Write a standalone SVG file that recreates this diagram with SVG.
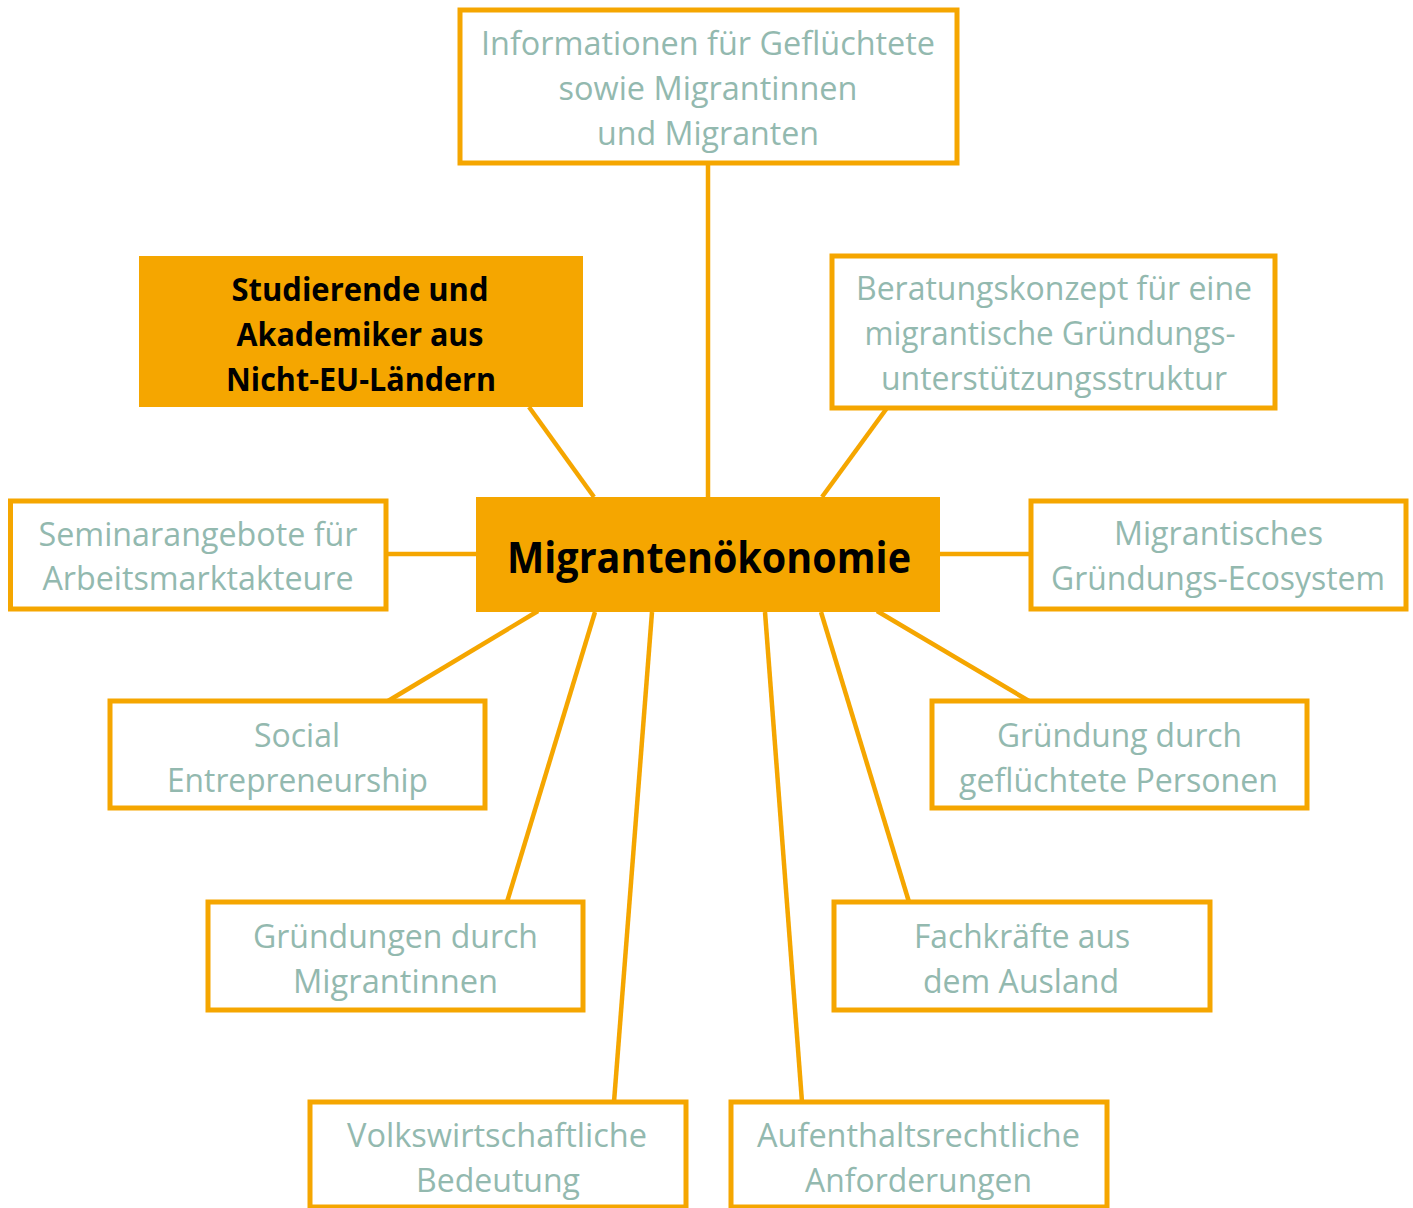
<svg xmlns="http://www.w3.org/2000/svg" width="1413" height="1208" viewBox="0 0 1413 1208">
<style>
.box{fill:#ffffff;stroke:#F5A600;stroke-width:5}
.fill{fill:#F5A600;stroke:none}
.con{stroke:#F5A600;stroke-width:4.5;fill:none}
.t{font-family:"Open Sans","Liberation Sans",sans-serif;font-size:33px;fill:#93B9AF;text-anchor:middle}
.b{font-family:"Open Sans","Liberation Sans",sans-serif;font-size:33px;font-weight:bold;fill:#000000;text-anchor:middle}
.c{font-family:"Open Sans","Liberation Sans",sans-serif;font-size:43px;font-weight:bold;fill:#000000;text-anchor:middle}
</style>
<rect width="1413" height="1208" fill="#ffffff"/>
<g id="connectors">
<line class="con" x1="708" y1="163" x2="708" y2="500"/>
<line class="con" x1="529" y1="407" x2="594" y2="497"/>
<line class="con" x1="887" y1="408" x2="822" y2="497"/>
<line class="con" x1="386" y1="554" x2="478" y2="554"/>
<line class="con" x1="938" y1="554" x2="1031" y2="554"/>
<line class="con" x1="388" y1="701" x2="538" y2="611"/>
<line class="con" x1="1029" y1="701" x2="877" y2="611"/>
<line class="con" x1="507" y1="902" x2="595" y2="612"/>
<line class="con" x1="909" y1="902" x2="821" y2="612"/>
<line class="con" x1="614" y1="1102" x2="652" y2="612"/>
<line class="con" x1="802" y1="1102" x2="765" y2="612"/>
</g>
<g id="n-info">
<rect class="box" x="460" y="10" width="497" height="153"/>
<text class="t" x="708" y="55" textLength="454" lengthAdjust="spacingAndGlyphs">Informationen für Geflüchtete</text>
<text class="t" x="708" y="100" textLength="299" lengthAdjust="spacingAndGlyphs">sowie Migrantinnen</text>
<text class="t" x="708" y="145" textLength="222" lengthAdjust="spacingAndGlyphs">und Migranten</text>
</g>
<g id="n-studierende">
<rect class="fill" x="139" y="256" width="444" height="151"/>
<text class="b" x="360" y="301" textLength="257" lengthAdjust="spacingAndGlyphs">Studierende und</text>
<text class="b" x="360" y="346" textLength="247" lengthAdjust="spacingAndGlyphs">Akademiker aus</text>
<text class="b" x="361" y="391" textLength="270" lengthAdjust="spacingAndGlyphs">Nicht-EU-Ländern</text>
</g>
<g id="n-beratung">
<rect class="box" x="832" y="256" width="443" height="152"/>
<text class="t" x="1054" y="300" textLength="396" lengthAdjust="spacingAndGlyphs">Beratungskonzept für eine</text>
<text class="t" x="1050" y="345" textLength="371" lengthAdjust="spacingAndGlyphs">migrantische Gründungs-</text>
<text class="t" x="1054" y="390" textLength="346" lengthAdjust="spacingAndGlyphs">unterstützungsstruktur</text>
</g>
<g id="n-center">
<rect class="fill" x="476" y="497" width="464" height="115"/>
<text class="c" x="709" y="573" textLength="404" lengthAdjust="spacingAndGlyphs">Migrantenökonomie</text>
</g>
<g id="n-seminar">
<rect class="box" x="10.5" y="501" width="375.5" height="108"/>
<text class="t" x="198" y="546" textLength="319" lengthAdjust="spacingAndGlyphs">Seminarangebote für</text>
<text class="t" x="198" y="590" textLength="311" lengthAdjust="spacingAndGlyphs">Arbeitsmarktakteure</text>
</g>
<g id="n-ecosystem">
<rect class="box" x="1031" y="501" width="375" height="108"/>
<text class="t" x="1218.5" y="545" textLength="209" lengthAdjust="spacingAndGlyphs">Migrantisches</text>
<text class="t" x="1218" y="590" textLength="334" lengthAdjust="spacingAndGlyphs">Gründungs-Ecosystem</text>
</g>
<g id="n-social">
<rect class="box" x="110" y="701" width="375" height="107"/>
<text class="t" x="297" y="747" textLength="86" lengthAdjust="spacingAndGlyphs">Social</text>
<text class="t" x="297.5" y="792" textLength="261" lengthAdjust="spacingAndGlyphs">Entrepreneurship</text>
</g>
<g id="n-gefluechtete">
<rect class="box" x="932" y="701" width="375" height="107"/>
<text class="t" x="1119.5" y="747" textLength="245" lengthAdjust="spacingAndGlyphs">Gründung durch</text>
<text class="t" x="1118.5" y="792" textLength="319" lengthAdjust="spacingAndGlyphs">geflüchtete Personen</text>
</g>
<g id="n-migrantinnen">
<rect class="box" x="208" y="902" width="375" height="108"/>
<text class="t" x="395.5" y="948" textLength="285" lengthAdjust="spacingAndGlyphs">Gründungen durch</text>
<text class="t" x="395.5" y="993" textLength="205" lengthAdjust="spacingAndGlyphs">Migrantinnen</text>
</g>
<g id="n-fachkraefte">
<rect class="box" x="834" y="902" width="376" height="108"/>
<text class="t" x="1022" y="948" textLength="216" lengthAdjust="spacingAndGlyphs">Fachkräfte aus</text>
<text class="t" x="1021" y="993" textLength="196" lengthAdjust="spacingAndGlyphs">dem Ausland</text>
</g>
<g id="n-volkswirtschaft">
<rect class="box" x="310" y="1102" width="376" height="105"/>
<text class="t" x="497" y="1147" textLength="300" lengthAdjust="spacingAndGlyphs">Volkswirtschaftliche</text>
<text class="t" x="498" y="1192" textLength="164" lengthAdjust="spacingAndGlyphs">Bedeutung</text>
</g>
<g id="n-aufenthalt">
<rect class="box" x="731" y="1102" width="376" height="105"/>
<text class="t" x="918.5" y="1147" textLength="323" lengthAdjust="spacingAndGlyphs">Aufenthaltsrechtliche</text>
<text class="t" x="918.5" y="1192" textLength="227" lengthAdjust="spacingAndGlyphs">Anforderungen</text>
</g>
</svg>
